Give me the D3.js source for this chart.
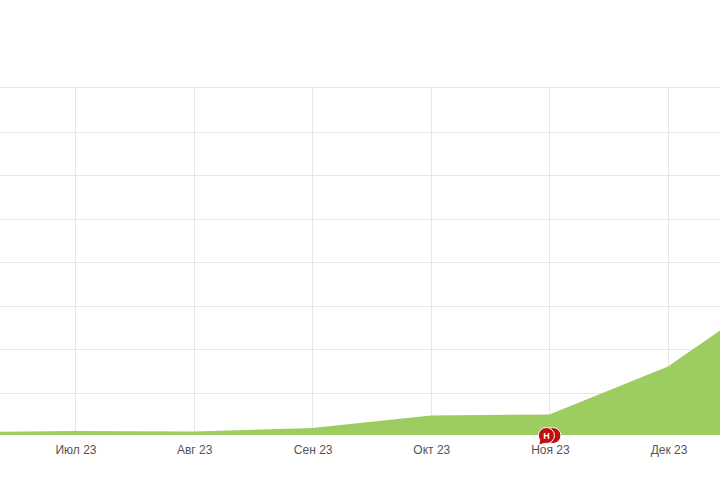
<!DOCTYPE html>
<html><head><meta charset="utf-8">
<script src="https://cdnjs.cloudflare.com/ajax/libs/d3/7.8.5/d3.min.js"></script>
<style>html,body{margin:0;padding:0;background:#fff;overflow:hidden}svg{display:block}</style>
</head><body><svg id="c" width="720" height="480"></svg>
<script>
const months = ["Июн 23","Июл 23","Авг 23","Сен 23","Окт 23","Ноя 23","Дек 23","Янв 24"];
const visibleLabels = ["Июл 23","Авг 23","Сен 23","Окт 23","Ноя 23","Дек 23"];
const values = [0.1,0.126,0.115,0.195,0.483,0.506,1.61,3.5];
const yTicks = [1,2,3,4,5,6,7];
const baseValue = 0.035;
const topValue = 8.03;
const markerCategory = "Ноя 23";
const markerLetter = "Н";

const svg = d3.select("#c");
const x = d3.scalePoint().domain(months).range([-43.6,786.6]);
const y = d3.scaleLinear().domain([0,8]).range([436.5,88.5]);

svg.append("g").selectAll("line").data([...yTicks,topValue]).join("line")
  .attr("x1",0).attr("x2",720).attr("y1",d=>Math.floor(y(d))+.5).attr("y2",d=>Math.floor(y(d))+.5)
  .attr("stroke","#e6e6e6");
svg.append("g").selectAll("line").data(visibleLabels).join("line")
  .attr("x1",d=>Math.round(x(d))+.5).attr("x2",d=>Math.round(x(d))+.5)
  .attr("y1",y(topValue)).attr("y2",y(baseValue)).attr("stroke","#e6e6e6");

const area = d3.area().x((d,i)=>x(months[i])).y0(y(baseValue)).y1(d=>y(d)).curve(d3.curveLinear);
svg.append("path").datum(values).attr("d",area).attr("fill","#9acb5c").attr("fill-opacity",.97);

const axis = d3.axisBottom(x).tickValues(visibleLabels).tickSize(0).tickPadding(10);
const ga = svg.append("g").attr("transform",`translate(0.5,${y(baseValue)+.5})`).call(axis);
ga.select(".domain").remove();
ga.selectAll("text").attr("font-family","'Liberation Sans',Arial,sans-serif").attr("font-size",12).attr("fill","#555");

const mx = x(markerCategory), my = 435.5;
function bubble(cx,fill,stroke){
  const g = svg.append("g");
  g.append("circle").attr("cx",cx).attr("cy",my).attr("r",8).attr("fill",fill).attr("stroke",stroke).attr("stroke-width",1);
  return g;
}
bubble(mx+3.5,"#c00d0d","#fff");
const front = bubble(mx-3,"#c00d0d","#fff");
front.append("path").attr("d",`M${mx-9},${my+4} L${mx-10},${my+9} L${mx-4},${my+7} Z`).attr("fill","#c00d0d");
front.append("text").attr("x",mx-3).attr("y",my+3).attr("text-anchor","middle")
  .attr("font-family","'Liberation Sans',Arial,sans-serif").attr("font-size",9).attr("font-weight","bold").attr("fill","#fff").text(markerLetter);
</script></body></html>
